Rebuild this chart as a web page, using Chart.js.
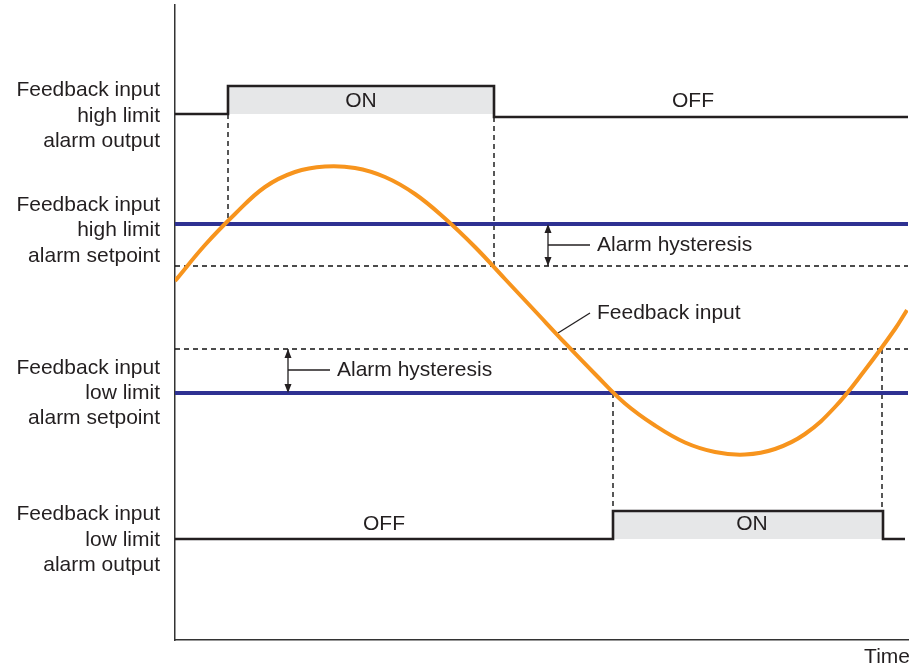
<!DOCTYPE html>
<html>
<head>
<meta charset="utf-8">
<script src="https://cdn.jsdelivr.net/npm/chart.js@4"></script>
<style>
  html, body { margin:0; padding:0; background:#fff; }
  canvas { display:block; }
</style>
</head>
<body>
<canvas id="alarmChart" width="915" height="668"></canvas>
<script>
(function(){
  // time axis 0..733, level axis 0..635
  const curveT = [0,30,60,90,120,150,180,210,240,270,300,330,360,390,420,450,480,510,540,570,600,630,660,690,720,732];
  const curveV = [359,395,426,453,468,473.5,472,463,446,421.5,393,361,329,297,266,236.5,214.5,197.5,188,185.5,191,206,233,270,311,330];

  const highSet = 416, highReset = 374;
  const lowSet = 247, lowReset = 291;

  const highOutT = [0,53,53,319,319,733];
  const highOutV = [526,526,554,554,523,523];
  const lowOutT = [0,438,438,708,708,730];
  const lowOutV = [101,101,129,129,101,101];

  const highOnT = [53,319], highOnTop = 554, highOnBase = 526;
  const lowOnT = [438,708], lowOnTop = 129, lowOnBase = 101;

  // vertical dashed guides: [time, from level, to level]
  const guides = [[53,526,416],[319,523,374],[438,247,129],[707,291,129]];

  // hysteresis arrows
  const hystHighT = 373, hystLowT = 113;

  // side labels: [level of each line, text lines]
  const sideLabels = [
    [[550,524,499], ['Feedback input','high limit','alarm output']],
    [[435,410,384], ['Feedback input','high limit','alarm setpoint']],
    [[272,247,222], ['Feedback input','low limit','alarm setpoint']],
    [[126,100,75],  ['Feedback input','low limit','alarm output']]
  ];
  // in-plot texts: [time, level, text, align]
  const plotTexts = [
    [186,539,'ON','center'],
    [518,539,'OFF','center'],
    [209,116,'OFF','center'],
    [577,116,'ON','center'],
    [422,395,'Alarm hysteresis','left'],
    [162,270,'Alarm hysteresis','left'],
    [422,327,'Feedback input','left']
  ];

  const INK = '#231f20';
  const FONT = '21px "Liberation Sans", Arial, sans-serif';

  const pts = (xs, ys) => xs.map((x,i)=>({x, y: ys[i]}));
  const seg = (x1,y1,x2,y2) => [{x:x1,y:y1},{x:x2,y:y2}];

  function lineSet(data, color, width, extra){
    return Object.assign({
      data, borderColor: color, borderWidth: width,
      pointRadius: 0, fill: false, tension: 0
    }, extra || {});
  }

  const dash = {borderDash:[5,4]};
  const DASHC = '#111';
  const datasets = [
    lineSet(pts(curveT, curveV), '#f7941d', 4, {tension:0.4}),
    lineSet(seg(0,highSet,733,highSet), '#2e3192', 4),
    lineSet(seg(0,lowSet,733,lowSet), '#2e3192', 4),
    lineSet(pts(highOutT, highOutV), INK, 2.6),
    lineSet(pts(lowOutT, lowOutV), INK, 2.6),
    // hysteresis marks
    lineSet(seg(hystHighT,highSet,hystHighT,highReset), INK, 1.3, {arrow:true}),
    lineSet(seg(357,highSet,383,highSet), INK, 1.5),
    lineSet(seg(hystHighT,395,415,395), INK, 1.3),
    lineSet(seg(hystLowT,lowReset,hystLowT,lowSet), INK, 1.3, {arrow:true}),
    lineSet(seg(137,lowSet,174,lowSet), INK, 1.5),
    lineSet(seg(hystLowT,270,155,270), INK, 1.3),
    lineSet(seg(383,307,415,327), INK, 1.3),
    // dashed
    lineSet(seg(0,highReset,733,highReset), DASHC, 1.4, dash),
    lineSet(seg(0,lowReset,733,lowReset), DASHC, 1.4, dash),
    ...guides.map(g => lineSet(seg(g[0],g[1],g[0],g[2]), DASHC, 1.4, dash)),
    // ON fills
    lineSet(seg(highOnT[0],highOnTop,highOnT[1],highOnTop), 'rgba(0,0,0,0)', 0,
      {fill:{value:highOnBase}, backgroundColor:'#e6e7e8'}),
    lineSet(seg(lowOnT[0],lowOnTop,lowOnT[1],lowOnTop), 'rgba(0,0,0,0)', 0,
      {fill:{value:lowOnBase}, backgroundColor:'#e6e7e8'})
  ];

  const textPlugin = {
    id: 'texts',
    afterDatasetsDraw(chart){
      const ctx = chart.ctx, xs = chart.scales.x, ys = chart.scales.y;
      const area = chart.chartArea;
      ctx.save();
      // arrow heads
      chart.data.datasets.forEach(ds => {
        if(!ds.arrow) return;
        const x = xs.getPixelForValue(ds.data[0].x);
        ds.data.forEach(p => {
          const y = ys.getPixelForValue(p.y);
          const other = ds.data.find(q => q !== p);
          const dir = ys.getPixelForValue(other.y) > y ? 1 : -1;
          ctx.fillStyle = INK;
          ctx.beginPath();
          ctx.moveTo(x, y);
          ctx.lineTo(x-3.5, y + dir*9);
          ctx.lineTo(x+3.5, y + dir*9);
          ctx.closePath();
          ctx.fill();
        });
      });
      ctx.fillStyle = INK;
      ctx.font = FONT;
      ctx.textBaseline = 'middle';
      ctx.textAlign = 'right';
      sideLabels.forEach(([levels, lines]) => {
        lines.forEach((t,i) => ctx.fillText(t, area.left - 15, ys.getPixelForValue(levels[i])));
      });
      plotTexts.forEach(([t,v,s,align]) => {
        ctx.textAlign = align;
        ctx.fillText(s, xs.getPixelForValue(t), ys.getPixelForValue(v));
      });
      ctx.textAlign = 'right';
      ctx.fillText('Time', area.right + 2, area.bottom + 17);
      ctx.restore();
    }
  };

  const axisBorder = {display:true, color:'#333', width:1.5};
  new Chart(document.getElementById('alarmChart'), {
    type: 'line',
    data: { datasets },
    options: {
      responsive: false,
      animation: false,
      layout: { padding: { left:175, right:7, top:5, bottom:28 } },
      plugins: { legend:{display:false}, tooltip:{enabled:false} },
      scales: {
        x: { type:'linear', min:0, max:733,
             grid:{display:false, drawTicks:false}, ticks:{display:false}, border:axisBorder },
        y: { type:'linear', min:0, max:635,
             grid:{display:false, drawTicks:false}, ticks:{display:false}, border:axisBorder }
      }
    },
    plugins: [textPlugin]
  });
})();
</script>
</body>
</html>
